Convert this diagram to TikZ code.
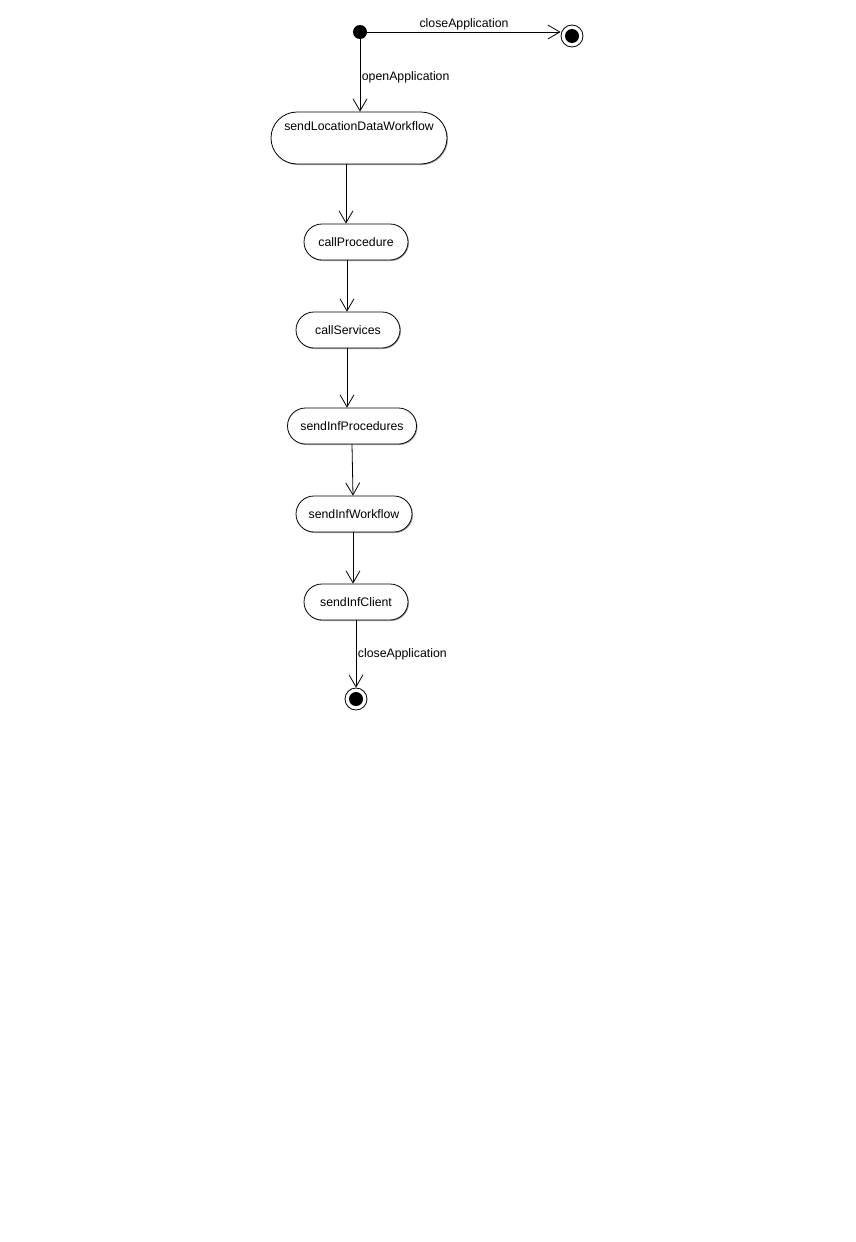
\documentclass[tikz,border=0pt]{standalone}
\usepackage{fontspec}
\setmainfont{Liberation Sans}
\usepackage{tikz}
\usetikzlibrary{positioning,calc,shapes.misc,arrows.meta,shadows}

\begin{document}
\begin{tikzpicture}[x=1pt,y=-1pt,line width=0.8pt,font=\fontsize{12.3}{14}\selectfont]
\tikzstyle{activity}=[draw,rounded rectangle,fill=white,minimum height=36pt,
  inner xsep=4pt,drop shadow={shadow xshift=1pt,shadow yshift=-1pt,fill=gray!70,opacity=1}]
\tikzstyle{flow}=[-{Straight Barb[length=12pt,width=14pt]}]
\tikzstyle{lbl}=[inner sep=1.5pt]
\useasboundingbox (0,0) rectangle (856,1242);
% start and end states
\node[fill,circle,minimum size=14pt,inner sep=0pt] (init) at (360,32) {};
\node[draw,circle,fill=white,minimum size=22pt,inner sep=0pt] (fin1) at (572,36) {};
\fill (fin1) circle (7);
\node[draw,circle,fill=white,minimum size=22pt,inner sep=0pt] (fin2) at (356,699) {};
\fill (fin2) circle (7);
% activities
\node[activity,minimum width=184pt,minimum height=52pt,text height=9pt,text depth=24pt,
      inner ysep=9.5pt] (sendLoc) at (359,138) {sendLocationDataWorkflow};
\node[activity,minimum width=112pt] (callProc) at (356,242) {callProcedure};
\node[activity,minimum width=112pt] (callServ) at (348,330) {callServices};
\node[activity,minimum width=137pt] (sendProc) at (352,426) {sendInfProcedures};
\node[activity,minimum width=124pt] (sendWf) at (354,514) {sendInfWorkflow};
\node[activity,minimum width=112pt] (sendCl) at (356,602) {sendInfClient};
% transitions
\draw[flow] (init) -- node[lbl,above] {closeApplication} (init -| fin1.west);
\draw[flow] (init) -- node[lbl,right,yshift=-2pt] {openApplication} (init |- sendLoc.north);
\draw[flow] ([xshift=-13pt]sendLoc.south) -- ([xshift=-10pt]callProc.north);
\draw[flow] ([xshift=-9pt]callProc.south) -- ([xshift=-1pt]callServ.north);
\draw[flow] ([xshift=-1pt]callServ.south) -- ([xshift=-5pt]sendProc.north);
\draw[flow] (sendProc.south) -- ([xshift=-1pt]sendWf.north);
\draw[flow] ([xshift=-1pt]sendWf.south) -- ([xshift=-3pt]sendCl.north);
\draw[flow] (sendCl.south) -- node[lbl,right] {closeApplication} (fin2.north);
\end{tikzpicture}
\end{document}
